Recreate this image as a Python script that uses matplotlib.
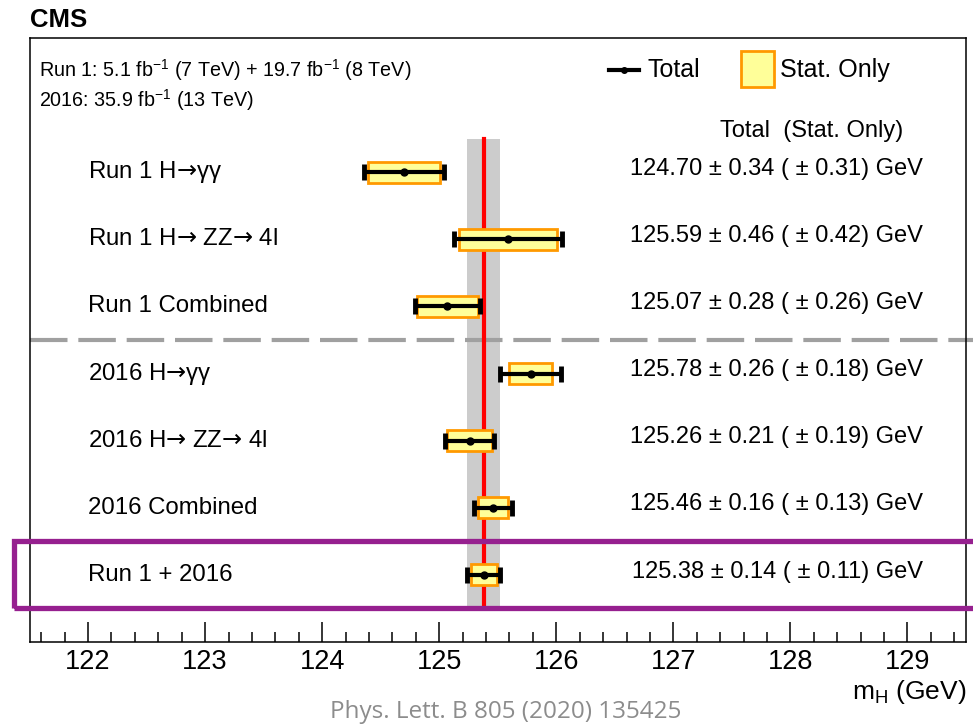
import numpy as np
import matplotlib.pyplot as plt
from matplotlib.patches import Rectangle
from matplotlib.ticker import MultipleLocator

plt.rcParams['font.family'] = ['Liberation Sans', 'DejaVu Sans']
plt.rcParams['mathtext.fontset'] = 'custom'
plt.rcParams['mathtext.rm'] = 'Liberation Sans'
plt.rcParams['mathtext.it'] = 'Liberation Sans:italic'
plt.rcParams['mathtext.sf'] = 'DejaVu Sans'

# arrow taken from DejaVu, the Liberation one is too short
ARR = '$\\mathsf{\u2192}$'

# mass measurements (GeV)
labels = ['Run 1 H' + ARR + '\u03b3\u03b3',
          'Run 1 H' + ARR + ' ZZ' + ARR + ' 4l',
          'Run 1 Combined',
          '2016 H' + ARR + '\u03b3\u03b3',
          '2016 H' + ARR + ' ZZ' + ARR + ' 4l',
          '2016 Combined',
          'Run 1 + 2016']
mass = [124.70, 125.59, 125.07, 125.78, 125.26, 125.46, 125.38]
err_tot = [0.34, 0.46, 0.28, 0.26, 0.21, 0.16, 0.14]
err_stat = [0.31, 0.42, 0.26, 0.18, 0.19, 0.13, 0.11]

best_m = 125.38
best_err = 0.14

yfill = '#ffff99'
orange = '#ff9900'

fig = plt.figure(figsize=(9.73, 7.26), dpi=100)
ax = fig.add_axes([29.5/973, 84/726, 936.5/973, 604/726])
ax.set_xlim(121.5, 129.5)
ax.set_ylim(0, 9)

ypos = np.arange(len(mass), 0, -1)

# combined value band and line
ax.fill_betweenx([0.5, 7.5], best_m - best_err, best_m + best_err, color='#cccccc', lw=0, zorder=1)
ax.plot([121.5, 129.65], [4.5, 4.5], color='#a0a0a0', lw=3, dashes=(9, 2.6), clip_on=False, zorder=2)
ax.plot([best_m, best_m], [0.5, 7.5], color='#ff0000', lw=3, zorder=3)

for y, m, et, es, lab in zip(ypos, mass, err_tot, err_stat, labels):
    ax.add_patch(Rectangle((m - es, y - 0.155), 2*es, 0.31, facecolor=yfill,
                           edgecolor=orange, lw=2, zorder=4))
    ax.errorbar(m, y, xerr=et, fmt='o', color='black', ms=5, elinewidth=3,
                capsize=6, capthick=3.5, zorder=5)
    ax.text(122.0, y, lab, fontsize=17.3, ha='left', va='center')
    ax.text(129.13, y + 0.05, f'{m:.2f} \u00b1 {et:.2f} ( \u00b1 {es:.2f}) GeV',
            fontsize=17, ha='right', va='center')

# highlight of the final combination
ax.add_patch(Rectangle((121.37, 0.508), 9.0, 0.995, fill=False, edgecolor='#96208f',
                       lw=3.8, clip_on=False, zorder=6))

# legend
ax.plot([126.45, 126.71], [8.52, 8.52], color='black', lw=3, zorder=5)
ax.plot(126.58, 8.52, 'o', color='black', ms=4, zorder=5)
ax.text(126.78, 8.52, 'Total', fontsize=18, ha='left', va='center')
ax.add_patch(Rectangle((127.58, 8.275), 0.28, 0.535, facecolor=yfill,
                       edgecolor=orange, lw=2, zorder=4))
ax.text(127.91, 8.52, 'Stat. Only', fontsize=18, ha='left', va='center')
ax.text(128.96, 7.615, 'Total  (Stat. Only)', fontsize=17, ha='right', va='center')

ax.text(121.585, 8.52, r'Run 1: 5.1 fb$^{-1}$ (7 TeV) + 19.7 fb$^{-1}$ (8 TeV)',
        fontsize=14.2, ha='left', va='center')
ax.text(121.585, 8.07, r'2016: 35.9 fb$^{-1}$ (13 TeV)',
        fontsize=14.2, ha='left', va='center')

ax.xaxis.set_major_locator(MultipleLocator(1))
ax.xaxis.set_minor_locator(MultipleLocator(0.2))
ax.tick_params(axis='x', which='major', direction='in', length=14.5, width=1.1,
               labelsize=19.5, pad=5)
ax.tick_params(axis='x', which='minor', direction='in', length=7.2, width=1.1)
ax.tick_params(axis='y', left=False, labelleft=False)
for s in ax.spines.values():
    s.set_linewidth(1.1)

fig.text(30/973, 1 - 27/726, 'CMS', fontsize=18.5, fontweight='bold', ha='left', va='baseline')
fig.text(966/973, 1 - 699/726, r'm$_{\rm H}$ (GeV)', fontsize=19, ha='right', va='baseline')
fig.text(506/973, 1 - 712/726, 'Phys. Lett. B 805 (2020) 135425', fontsize=17.5,
         family='Open Sans', color='#8c8c8c', ha='center', va='center')

fig.savefig('out.png', dpi=100)
